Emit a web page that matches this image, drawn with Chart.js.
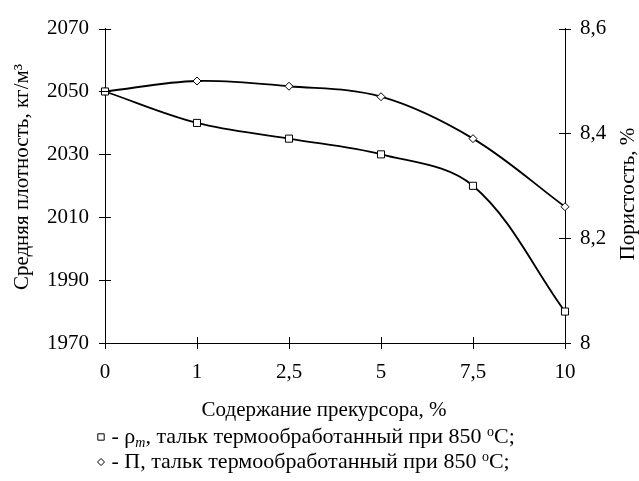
<!DOCTYPE html>
<html>
<head>
<meta charset="utf-8">
<script src="https://cdn.jsdelivr.net/npm/chart.js@4"></script>
<style>
html,body{margin:0;padding:0;background:#fff;}
#wrap{position:relative;width:639px;height:481px;}
</style>
</head>
<body>
<div id="wrap"><canvas id="c" width="639" height="481"></canvas></div>
<script>
const categories = ['0', '1', '2,5', '5', '7,5', '10'];
const density = [2050, 2040, 2035, 2030, 2020, 1980];
const porosity = [8.48, 8.50, 8.49, 8.47, 8.39, 8.26];
const leftTicks = [1970, 1990, 2010, 2030, 2050, 2070];
const leftTickLabels = ['1970', '1990', '2010', '2030', '2050', '2070'];
const rightTicks = [8, 8.2, 8.4, 8.6];
const rightTickLabels = ['8', '8,2', '8,4', '8,6'];
const xTitle = 'Содержание прекурсора, %';
const yLeftTitle = 'Средняя плотность, кг/м³';
const yRightTitle = 'Пористость, %';
const legendRow1 = [
  {t: ' - ρ'}, {t: 'm', italic: true, sub: true}, {t: ', тальк термообработанный при 850 '}, {t: 'o', sup: true}, {t: 'C;'}
];
const legendRow2 = [
  {t: ' - П, тальк термообработанный при 850 '}, {t: 'o', sup: true}, {t: 'C;'}
];

const FONT = '"Liberation Serif", "Times New Roman", serif';
const FS = 21;

function labelFor(values, labels, v) {
  const i = values.findIndex(t => Math.abs(t - v) < 1e-6);
  return i >= 0 ? labels[i] : '';
}

const decor = {
  id: 'decor',
  afterDraw(chart) {
    const ctx = chart.ctx;
    const ca = chart.chartArea;
    ctx.save();
    ctx.strokeStyle = '#000';
    ctx.lineWidth = 1;
    // crossing tick marks
    const xs = chart.scales.x, yl = chart.scales.y, yr = chart.scales.y1;
    ctx.beginPath();
    xs.ticks.forEach((t, i) => {
      const px = Math.round(xs.getPixelForTick(i)) + 0.5;
      ctx.moveTo(px, ca.bottom - 6); ctx.lineTo(px, ca.bottom + 6);
    });
    yl.ticks.forEach((t, i) => {
      const py = Math.round(yl.getPixelForTick(i)) + 0.5;
      ctx.moveTo(ca.left - 6, py); ctx.lineTo(ca.left + 6, py);
    });
    yr.ticks.forEach((t, i) => {
      const py = Math.round(yr.getPixelForTick(i)) + 0.5;
      ctx.moveTo(ca.right - 6, py); ctx.lineTo(ca.right + 6, py);
    });
    ctx.stroke();

    ctx.fillStyle = '#000';
    ctx.font = FS + 'px ' + FONT;
    ctx.textAlign = 'center';
    ctx.textBaseline = 'middle';
    // x title
    ctx.fillText(xTitle, 324, 410);
    // y titles
    ctx.save();
    ctx.translate(22, 177);
    ctx.rotate(-Math.PI / 2);
    ctx.fillText(yLeftTitle, 0, 0);
    ctx.restore();
    ctx.save();
    ctx.translate(628, 194);
    ctx.rotate(-Math.PI / 2);
    ctx.fillText(yRightTitle, 0, 0);
    ctx.restore();

    // legend
    const LS = 22;
    function drawRow(segs, x, y) {
      ctx.fillStyle = '#000';
      ctx.textAlign = 'left';
      ctx.textBaseline = 'alphabetic';
      segs.forEach(s => {
        const size = (s.sub || s.sup) ? Math.round(LS * 0.65) : LS;
        ctx.font = (s.italic ? 'italic ' : '') + size + 'px ' + FONT;
        let dy = 0;
        if (s.sub) dy = 4;
        if (s.sup) dy = -7;
        ctx.fillText(s.t, x, y + dy);
        x += ctx.measureText(s.t).width;
      });
    }
    const mx = 101;
    const r1 = 443, r2 = 468;
    ctx.fillStyle = '#fff';
    ctx.strokeStyle = '#000';
    ctx.lineWidth = 1;
    Chart.helpers.drawPoint(ctx, {pointStyle: 'rect', radius: 4.5, borderWidth: 1}, mx, r1 - 6);
    drawRow(legendRow1, mx + 5, r1);
    ctx.fillStyle = '#fff';
    ctx.strokeStyle = '#000';
    ctx.lineWidth = 1;
    Chart.helpers.drawPoint(ctx, {pointStyle: 'rectRot', radius: 3.5, borderWidth: 1}, mx, r2 - 6);
    drawRow(legendRow2, mx + 5, r2);
    ctx.restore();
  }
};

Chart.defaults.font.family = FONT;

new Chart(document.getElementById('c'), {
  type: 'line',
  data: {
    labels: categories,
    datasets: [
      {
        label: 'ρm', data: density, yAxisID: 'y',
        borderColor: '#000', borderWidth: 1.8, tension: 0.35,
        pointStyle: 'rect', pointRadius: 5, pointBorderWidth: 1,
        pointBackgroundColor: '#fff', pointBorderColor: '#000', fill: false
      },
      {
        label: 'П', data: porosity, yAxisID: 'y1',
        borderColor: '#000', borderWidth: 1.8, tension: 0.35,
        pointStyle: 'rectRot', pointRadius: 4, pointBorderWidth: 1,
        pointBackgroundColor: '#fff', pointBorderColor: '#000', fill: false
      }
    ]
  },
  options: {
    responsive: false,
    animation: false,
    events: [],
    layout: {padding: {top: 23, left: 0, right: 0, bottom: 0}},
    plugins: {legend: {display: false}, tooltip: {enabled: false}, title: {display: false}},
    scales: {
      x: {
        type: 'category', offset: false,
        grid: {display: false, drawTicks: false},
        border: {display: true, color: '#000', width: 1},
        ticks: {color: '#000', font: {size: FS, family: FONT}, padding: 17, maxRotation: 0, autoSkip: false},
        afterFit(s) { s.height = 138; }
      },
      y: {
        position: 'left', min: 1970, max: 2070,
        afterBuildTicks(s) { s.ticks = leftTicks.map(v => ({value: v})); },
        grid: {display: false, drawTicks: false},
        border: {display: true, color: '#000', width: 1},
        ticks: {color: '#000', font: {size: FS, family: FONT}, padding: 16,
          callback(v) { return labelFor(leftTicks, leftTickLabels, v); }},
        afterFit(s) { s.width = 105; }
      },
      y1: {
        position: 'right', min: 8, max: 8.6,
        afterBuildTicks(s) { s.ticks = rightTicks.map(v => ({value: v})); },
        grid: {display: false, drawTicks: false},
        border: {display: true, color: '#000', width: 1},
        ticks: {color: '#000', font: {size: FS, family: FONT}, padding: 15,
          callback(v) { return labelFor(rightTicks, rightTickLabels, v); }},
        afterFit(s) { s.width = 74; }
      }
    }
  },
  plugins: [decor]
});
</script>
</body>
</html>
